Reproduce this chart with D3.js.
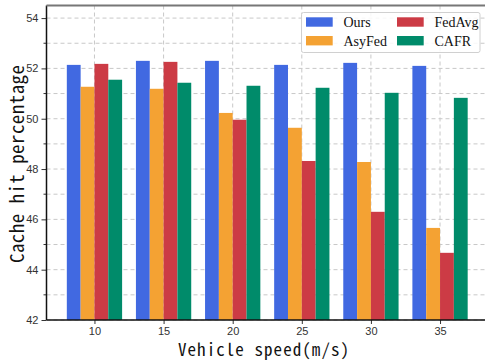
<!DOCTYPE html>
<html>
<head>
<meta charset="utf-8">
<script src="https://cdn.jsdelivr.net/npm/d3@7"></script>
<style>
  body { margin: 0; background: #fff; }
  svg { display: block; }
</style>
</head>
<body>
<svg id="chart" width="485" height="363"></svg>
<script>
// speeds on the x axis
var speeds = [10, 15, 20, 25, 30, 35];
var seriesNames = ["Ours", "AsyFed", "FedAvg", "CAFR"];
var seriesColors = ["#4169E1", "#F4A233", "#CC3B45", "#008B6A"];

// cache hit percentage
var ours   = [52.14, 52.30, 52.30, 52.14, 52.22, 52.10];
var asyFed = [51.27, 51.19, 50.23, 49.64, 48.28, 45.66];
var fedAvg = [52.18, 52.26, 49.96, 48.32, 46.30, 44.67];
var cafr   = [51.55, 51.43, 51.31, 51.23, 51.03, 50.83];

var yTicks = [42, 44, 46, 48, 50, 52, 54];
var yMinor = [43, 45, 47, 49, 51, 53];

var allSeries = [ours, asyFed, fedAvg, cafr];

var svg = d3.select("#chart");
// note: "top" is taken by window.top, so use plot* names
var plotLeft = 46.5, plotTop = 5.5, plotBottom = 320, plotRight = 488;

var x = d3.scaleLinear().domain([6.53, 38.47]).range([plotLeft, plotRight]);
var y = d3.scaleLinear().domain([42, 54.5]).range([plotBottom, plotTop]);
var barW = x(1) - x(0);

// grid lines, dashed, major + minor on y
var grid = svg.append("g");
grid.selectAll("line.gy")
  .data(yTicks.concat(yMinor))
  .enter().append("line")
  .attr("x1", plotLeft).attr("x2", plotRight)
  .attr("y1", function (d) { return y(d); })
  .attr("y2", function (d) { return y(d); })
  .attr("stroke", "#c8c8c8").attr("stroke-width", 1)
  .attr("stroke-dasharray", "4,3");
grid.selectAll("line.gx")
  .data(speeds)
  .enter().append("line")
  .attr("y1", plotTop).attr("y2", plotBottom)
  .attr("x1", function (d) { return x(d); })
  .attr("x2", function (d) { return x(d); })
  .attr("stroke", "#c8c8c8").attr("stroke-width", 1)
  .attr("stroke-dasharray", "4,3");

// bars
allSeries.forEach(function (vals, si) {
  svg.append("g").selectAll("rect")
    .data(vals)
    .enter().append("rect")
    .attr("x", function (d, i) { return x(speeds[i]) + (si - 2) * barW; })
    .attr("width", barW)
    .attr("y", function (d) { return y(d); })
    .attr("height", function (d) { return plotBottom - y(d); })
    .attr("fill", seriesColors[si]);
});

// axes
var yAxis = d3.axisLeft(y).tickValues(yTicks).tickSize(5).tickPadding(3).tickFormat(d3.format("d"));
var gy = svg.append("g").attr("transform", "translate(" + plotLeft + ",0)").call(yAxis);
gy.select(".domain").remove();
gy.selectAll("text").attr("font-family", "Liberation Sans, Arial, sans-serif").attr("font-size", "11px").attr("fill", "#333");
gy.selectAll("line").attr("stroke", "#333");
svg.append("g").selectAll("line")
  .data(yMinor)
  .enter().append("line")
  .attr("x1", plotLeft - 3).attr("x2", plotLeft)
  .attr("y1", function (d) { return y(d); })
  .attr("y2", function (d) { return y(d); })
  .attr("stroke", "#333");

var xAxis = d3.axisBottom(x).tickValues(speeds).tickSize(4).tickPadding(3).tickFormat(d3.format("d"));
var gx = svg.append("g").attr("transform", "translate(0," + plotBottom + ")").call(xAxis);
gx.select(".domain").remove();
gx.selectAll("text").attr("font-family", "Liberation Sans, Arial, sans-serif").attr("font-size", "11px").attr("fill", "#333");
gx.selectAll("line").attr("stroke", "#333");

// spines: left + bottom black, top gray
svg.append("line").attr("x1", plotLeft).attr("x2", plotLeft).attr("y1", plotTop).attr("y2", plotBottom)
  .attr("stroke", "#111").attr("stroke-width", 1.5);
svg.append("line").attr("x1", plotLeft).attr("x2", plotRight).attr("y1", plotBottom).attr("y2", plotBottom)
  .attr("stroke", "#111").attr("stroke-width", 1.5);
svg.append("line").attr("x1", plotLeft).attr("x2", plotRight).attr("y1", plotTop).attr("y2", plotTop)
  .attr("stroke", "#777").attr("stroke-width", 2);

// axis titles
var monoFont = "'Noto Sans Mono CJK SC', 'DejaVu Sans Mono', monospace";
svg.append("text")
  .attr("x", 263.5).attr("y", 356)
  .attr("text-anchor", "middle")
  .attr("font-family", monoFont).attr("font-size", "17px")
  .attr("textLength", 171).attr("lengthAdjust", "spacing")
  .attr("fill", "#111")
  .text("Vehicle speed(m/s)");
svg.append("text")
  .attr("transform", "translate(23.5,164) rotate(-90)")
  .attr("text-anchor", "middle")
  .attr("font-family", monoFont).attr("font-size", "19px")
  .attr("textLength", 198).attr("lengthAdjust", "spacing")
  .attr("fill", "#111")
  .text("Cache hit percentage");

// legend
var lg = svg.append("g");
lg.append("rect")
  .attr("x", 301.5).attr("y", 12.5).attr("width", 178.5).attr("height", 40)
  .attr("rx", 2).attr("fill", "rgba(255,255,255,0.85)")
  .attr("stroke", "#d0d0d0").attr("stroke-width", 1);
var legendPos = [[306, 17.3], [306, 36], [397, 17.3], [397, 36]];
seriesNames.forEach(function (name, i) {
  var p = legendPos[i];
  lg.append("rect").attr("x", p[0]).attr("y", p[1])
    .attr("width", 26.7).attr("height", 9.4).attr("fill", seriesColors[i]);
  lg.append("text").attr("x", p[0] + 37.5).attr("y", p[1] + 9.8)
    .attr("font-family", "'Liberation Serif', 'Times New Roman', serif")
    .attr("font-size", "14px").attr("fill", "#111")
    .text(name);
});
</script>
</body>
</html>
